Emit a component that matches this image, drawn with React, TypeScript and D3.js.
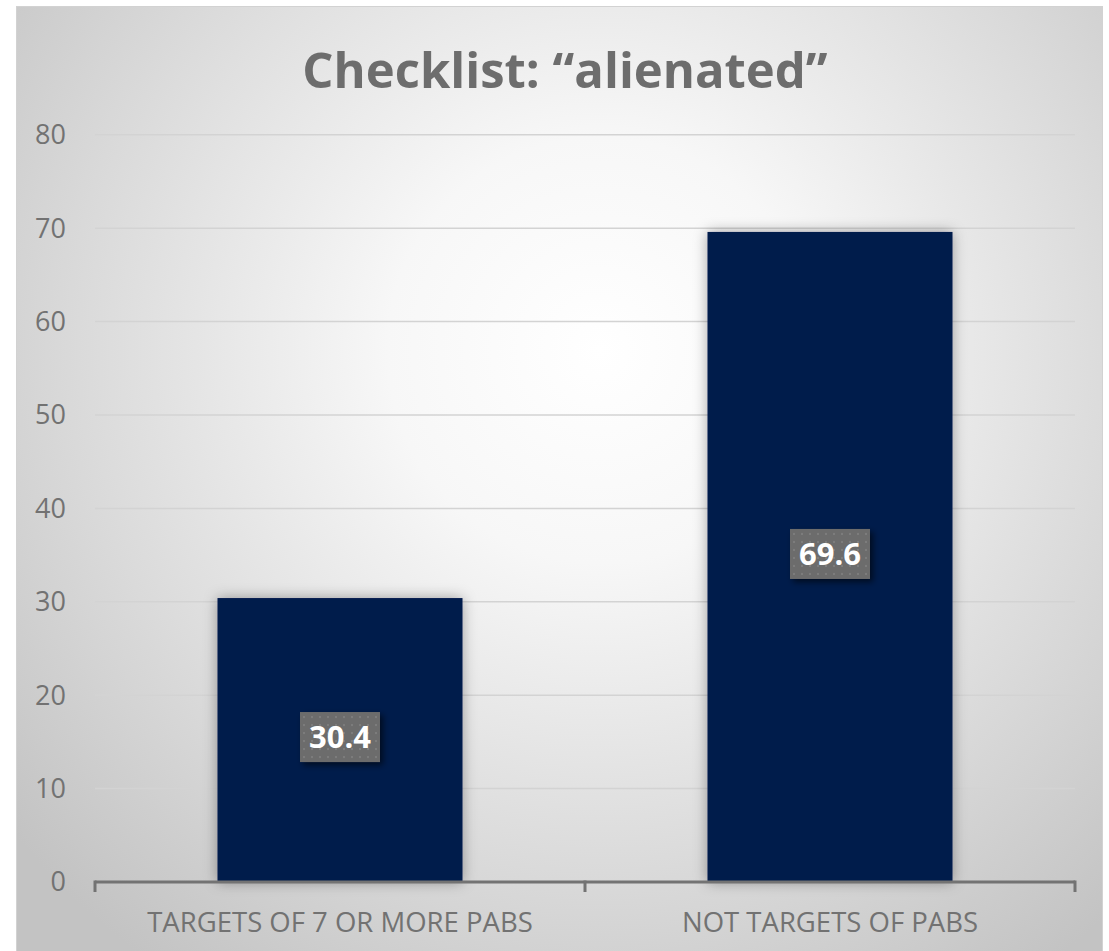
import { useEffect, useRef } from 'react';
import * as d3 from 'd3';

const categories = ['TARGETS OF 7 OR MORE PABS', 'NOT TARGETS OF PABS'];
const values = [30.4, 69.6];
const yTicks = [0, 10, 20, 30, 40, 50, 60, 70, 80];
const chartTitle = 'Checklist: \u201calienated\u201d';

const App = () => {
  const svgRef = useRef(null);

  useEffect(() => {
    const width = 1109;
    const height = 951;
    const svg = d3.select(svgRef.current);
    svg.selectAll('*').remove();

    const defs = svg.append('defs');

    const bg = defs
      .append('radialGradient')
      .attr('id', 'bg-grad')
      .attr('gradientUnits', 'userSpaceOnUse')
      .attr('cx', 600)
      .attr('cy', 350)
      .attr('r', 760);
    bg.append('stop').attr('offset', '0').attr('stop-color', '#ffffff');
    bg.append('stop').attr('offset', '0.28').attr('stop-color', '#f7f7f7');
    bg.append('stop').attr('offset', '0.7').attr('stop-color', '#d9d9d9');
    bg.append('stop').attr('offset', '1').attr('stop-color', '#c3c3c3');

    const barShadow = defs
      .append('filter')
      .attr('id', 'bar-shadow')
      .attr('x', '-20%')
      .attr('y', '-20%')
      .attr('width', '140%')
      .attr('height', '140%');
    barShadow
      .append('feDropShadow')
      .attr('dx', 0)
      .attr('dy', 0)
      .attr('stdDeviation', 7)
      .attr('flood-color', '#000')
      .attr('flood-opacity', 0.35);

    const boxShadow = defs
      .append('filter')
      .attr('id', 'box-shadow')
      .attr('x', '-30%')
      .attr('y', '-30%')
      .attr('width', '160%')
      .attr('height', '160%');
    boxShadow
      .append('feDropShadow')
      .attr('dx', 3)
      .attr('dy', 3)
      .attr('stdDeviation', 3)
      .attr('flood-color', '#000')
      .attr('flood-opacity', 0.6);

    const dots = defs
      .append('pattern')
      .attr('id', 'dots')
      .attr('patternUnits', 'userSpaceOnUse')
      .attr('width', 8)
      .attr('height', 8);
    dots.append('rect').attr('width', 8).attr('height', 8).attr('fill', '#6c6c6c');
    dots.append('rect').attr('x', 3).attr('y', 3).attr('width', 2).attr('height', 2).attr('fill', '#7c7c7c');

    // page + chart panel
    svg.append('rect').attr('width', width).attr('height', height).attr('fill', '#ffffff');
    svg
      .append('rect')
      .attr('x', 16.5)
      .attr('y', 6.5)
      .attr('width', 1086)
      .attr('height', 960)
      .attr('fill', 'url(#bg-grad)')
      .attr('stroke', '#d2d2d2')
      .attr('stroke-width', 1);

    svg
      .append('text')
      .attr('x', 565)
      .attr('y', 88)
      .attr('text-anchor', 'middle')
      .style('font-family', 'Open Sans')
      .style('font-weight', 'bold')
      .style('font-size', '49px')
      .attr('fill', '#6d6d6d')
      .text(chartTitle);

    const plot = { left: 95, right: 1075, top: 134.8, bottom: 882 };

    const yScale = d3.scaleLinear().domain([0, 80]).range([plot.bottom, plot.top]);
    const xScale = d3
      .scaleBand()
      .domain(categories)
      .range([plot.left, plot.right])
      .paddingInner(0.5)
      .paddingOuter(0.25);

    // gridlines
    svg
      .append('g')
      .selectAll('line')
      .data(yTicks.filter((t) => t > 0))
      .enter()
      .append('line')
      .attr('x1', plot.left)
      .attr('x2', plot.right)
      .attr('y1', (d) => yScale(d))
      .attr('y2', (d) => yScale(d))
      .attr('stroke', '#d3d3d3')
      .attr('stroke-width', 1.5);

    // y tick labels
    svg
      .append('g')
      .selectAll('text')
      .data(yTicks)
      .enter()
      .append('text')
      .attr('x', 66)
      .attr('y', (d) => yScale(d))
      .attr('dy', '0.35em')
      .attr('text-anchor', 'end')
      .style('font-family', 'Open Sans')
      .style('font-size', '27px')
      .attr('fill', '#727272')
      .text((d) => d);

    // bars
    svg
      .append('g')
      .selectAll('rect')
      .data(values)
      .enter()
      .append('rect')
      .attr('x', (d, i) => xScale(categories[i]))
      .attr('y', (d) => yScale(d))
      .attr('width', xScale.bandwidth())
      .attr('height', (d) => plot.bottom - yScale(d))
      .attr('fill', '#001a4b')
      .attr('filter', 'url(#bar-shadow)');

    // x axis line + ticks
    const axisG = svg.append('g');
    axisG
      .append('line')
      .attr('x1', plot.left)
      .attr('x2', plot.right)
      .attr('y1', plot.bottom)
      .attr('y2', plot.bottom)
      .attr('stroke', '#737373')
      .attr('stroke-width', 3);
    const boundaries = [plot.left, ...categories.map((c) => xScale(c) + xScale.bandwidth() + (xScale.step() - xScale.bandwidth()) / 2)];
    axisG
      .selectAll('.tick')
      .data(boundaries)
      .enter()
      .append('line')
      .attr('x1', (d) => d)
      .attr('x2', (d) => d)
      .attr('y1', plot.bottom - 1.5)
      .attr('y2', plot.bottom + 10)
      .attr('stroke', '#737373')
      .attr('stroke-width', 3);

    // category labels
    svg
      .append('g')
      .selectAll('text')
      .data(categories)
      .enter()
      .append('text')
      .attr('x', (d) => xScale(d) + xScale.bandwidth() / 2)
      .attr('y', 922)
      .attr('dy', '0.35em')
      .attr('text-anchor', 'middle')
      .style('font-family', 'Open Sans')
      .style('font-size', '27.5px')
      .attr('fill', '#727272')
      .text((d) => d);

    // data labels
    const labelG = svg
      .append('g')
      .selectAll('g')
      .data(values)
      .enter()
      .append('g')
      .attr('transform', (d, i) => {
        const cx = xScale(categories[i]) + xScale.bandwidth() / 2;
        const cy = (yScale(d) + plot.bottom) / 2 - 3;
        return `translate(${cx},${cy})`;
      });
    labelG
      .append('rect')
      .attr('x', -40)
      .attr('y', -25)
      .attr('width', 80)
      .attr('height', 50)
      .attr('fill', 'url(#dots)')
      .attr('filter', 'url(#box-shadow)');
    labelG
      .append('text')
      .attr('x', 0)
      .attr('y', 0)
      .attr('dy', '0.36em')
      .attr('text-anchor', 'middle')
      .style('font-family', 'Open Sans')
      .style('font-weight', 'bold')
      .style('font-size', '31px')
      .attr('fill', '#ffffff')
      .text((d) => d.toFixed(1));
  }, []);

  return (
    <svg
      ref={svgRef}
      width={1109}
      height={951}
      style={{ position: 'absolute', left: 0, top: 0, display: 'block' }}
    />
  );
};

export default App;
